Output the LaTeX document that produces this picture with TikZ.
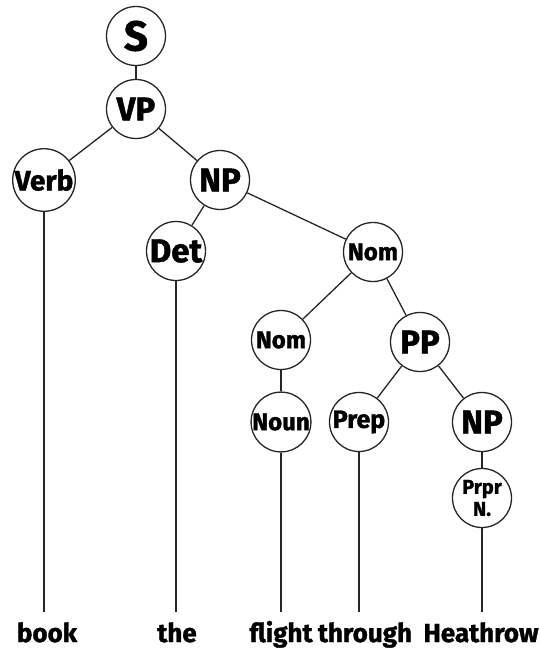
\documentclass[tikz,border=0pt]{standalone}
\usepackage{fontspec}
\setmainfont{Fira Sans}[BoldFeatures={FakeBold=1.3}]
\usetikzlibrary{positioning}

\begin{document}
\begin{tikzpicture}[
  x=1pt, y=-1pt,
  every node/.style={font=\bfseries},
  cat/.style={draw=black!85, line width=1.3pt, circle, minimum size=59pt, inner sep=0pt, fill=white},
  catXL/.style={cat, font=\fontsize{42}{42}\selectfont\bfseries},
  catL/.style={cat, font=\fontsize{33}{33}\selectfont\bfseries},
  catM/.style={cat, font=\fontsize{24}{24}\selectfont\bfseries},
  catS/.style={cat, align=center, font=\fontsize{20}{22}\selectfont\bfseries},
  word/.style={anchor=base, inner sep=0pt, text height=30pt, text depth=0pt, font=\fontsize{26}{26}\selectfont\bfseries},
  edge/.style={draw=black!85, line width=1.3pt}
]
\useasboundingbox (0,0) rectangle (540,650);

% phrase structure
\node[catXL] (s) at (136,36) {S};
\node[catL] (vp) at (136,109) {VP};
\node[catM, font=\fontsize{28}{28}\selectfont\bfseries] (verb) at (44,180) {Verb};
\node[catL] (np) at (220,180) {NP};
\node[catL] (det) at (176,251) {Det};
\node[catM] (nom) at (373,252) {Nom};
\node[catM] (nomb) at (281,340) {Nom};
\node[catL] (pp) at (420,342) {PP};
\node[catM] (noun) at (281,422) {Noun};
\node[catM, font=\fontsize{25}{25}\selectfont\bfseries] (prep) at (359,422) {Prep};
\node[catL] (npb) at (482,422) {NP};
\node[catS] (prpr) at (482,498) {Prpr\\N.};

% words
\node[word] (book) at (47,642) {book};
\node[word] (the) at (177,642) {the};
\node[word] (flight) at (281,642) {flight};
\node[word] (through) at (365,642) {through};
\node[word] (heathrow) at (481,642) {Heathrow};

\draw[edge] (s) -- (vp);
\draw[edge] (vp) -- (verb);
\draw[edge] (vp) -- (np);
\draw[edge] (np) -- (det);
\draw[edge] (np) -- (nom);
\draw[edge] (nom) -- (nomb);
\draw[edge] (nom) -- (pp);
\draw[edge] (nomb) -- (noun);
\draw[edge] (pp) -- (prep);
\draw[edge] (pp) -- (npb);
\draw[edge] (npb) -- (prpr);

\draw[edge] (verb) -- (verb |- book.north);
\draw[edge] (det) -- (det |- the.north);
\draw[edge] (noun) -- (noun |- flight.north);
\draw[edge] (prep) -- (prep |- through.north);
\draw[edge] (prpr) -- (prpr |- heathrow.north);
\end{tikzpicture}
\end{document}
